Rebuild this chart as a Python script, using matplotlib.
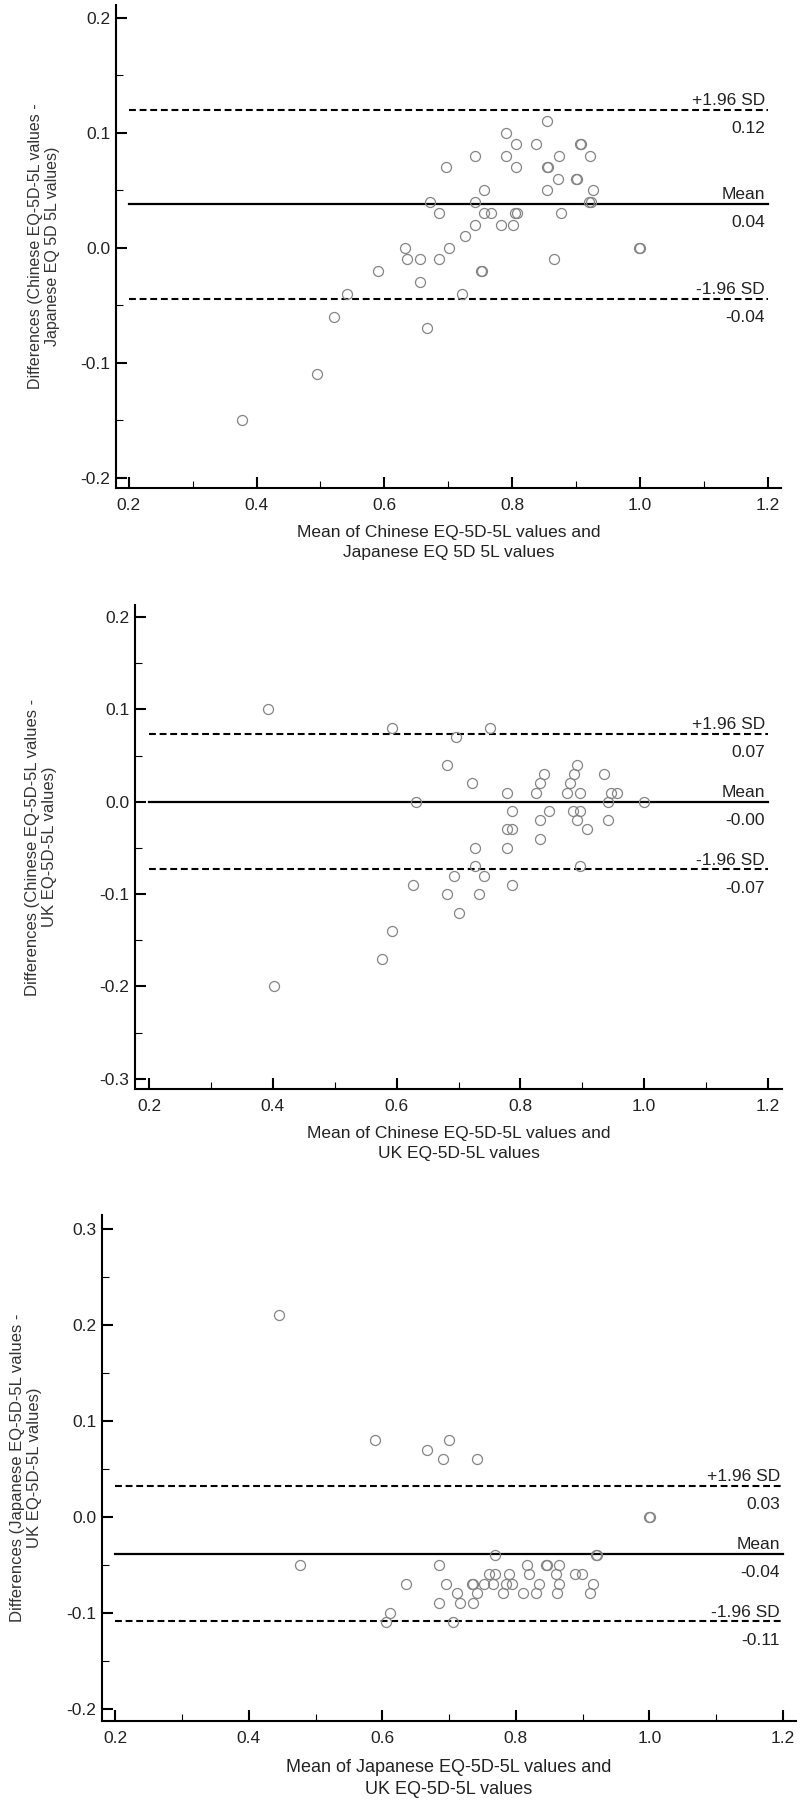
import matplotlib

matplotlib.use("Agg")
import matplotlib.pyplot as plt
import matplotlib.transforms as mtransforms
import numpy as np
from matplotlib.ticker import MultipleLocator, FormatStrFormatter

# Chinese vs Japanese EQ-5D-5L
cj_mean = [0.855, 0.791, 0.806, 0.837, 0.906, 0.908, 0.742, 0.791, 0.874, 0.922,
           0.696, 0.806, 0.854, 0.856, 0.872, 0.900, 0.902, 0.756, 0.855, 0.926,
           0.672, 0.742, 0.921, 0.923, 0.686, 0.756, 0.767, 0.805, 0.807, 0.876,
           0.742, 0.782, 0.802, 0.727, 0.632, 0.701, 0.999, 1.001, 0.635, 0.656,
           0.686, 0.866, 0.590, 0.751, 0.753, 0.656, 0.541, 0.721, 0.522, 0.667,
           0.494, 0.378]
cj_diff = [0.11, 0.10, 0.09, 0.09, 0.09, 0.09, 0.08, 0.08, 0.08, 0.08,
           0.07, 0.07, 0.07, 0.07, 0.06, 0.06, 0.06, 0.05, 0.05, 0.05,
           0.04, 0.04, 0.04, 0.04, 0.03, 0.03, 0.03, 0.03, 0.03, 0.03,
           0.02, 0.02, 0.02, 0.01, 0.00, 0.00, 0.00, 0.00, -0.01, -0.01,
           -0.01, -0.01, -0.02, -0.02, -0.02, -0.03, -0.04, -0.04, -0.06, -0.07,
           -0.11, -0.15]

# Chinese vs UK EQ-5D-5L
cu_mean = [0.392, 0.592, 0.751, 0.696, 0.681, 0.891, 0.838, 0.886, 0.936, 0.722,
           0.831, 0.881, 0.778, 0.826, 0.875, 0.897, 0.947, 0.957, 0.632, 0.942,
           1.000, 0.786, 0.846, 0.885, 0.897, 0.831, 0.892, 0.942, 0.778, 0.786,
           0.907, 0.831, 0.727, 0.778, 0.727, 0.897, 0.692, 0.742, 0.626, 0.786,
           0.681, 0.733, 0.700, 0.592, 0.577, 0.401]
cu_diff = [0.10, 0.08, 0.08, 0.07, 0.04, 0.04, 0.03, 0.03, 0.03, 0.02,
           0.02, 0.02, 0.01, 0.01, 0.01, 0.01, 0.01, 0.01, 0.00, 0.00,
           0.00, -0.01, -0.01, -0.01, -0.01, -0.02, -0.02, -0.02, -0.03, -0.03,
           -0.03, -0.04, -0.05, -0.05, -0.07, -0.07, -0.08, -0.08, -0.09, -0.09,
           -0.10, -0.10, -0.12, -0.14, -0.17, -0.20]

# Japanese vs UK EQ-5D-5L
ju_mean = [0.445, 0.589, 0.700, 0.667, 0.691, 0.741, 0.999, 1.001, 0.769, 0.920,
           0.922, 0.476, 0.685, 0.816, 0.845, 0.847, 0.865, 0.760, 0.769, 0.790,
           0.819, 0.860, 0.889, 0.899, 0.635, 0.696, 0.734, 0.736, 0.752, 0.765,
           0.785, 0.794, 0.835, 0.865, 0.915, 0.712, 0.742, 0.781, 0.811, 0.830,
           0.861, 0.911, 0.685, 0.716, 0.735, 0.612, 0.606, 0.706]
ju_diff = [0.21, 0.08, 0.08, 0.07, 0.06, 0.06, 0.00, 0.00, -0.04, -0.04,
           -0.04, -0.05, -0.05, -0.05, -0.05, -0.05, -0.05, -0.06, -0.06, -0.06,
           -0.06, -0.06, -0.06, -0.06, -0.07, -0.07, -0.07, -0.07, -0.07, -0.07,
           -0.07, -0.07, -0.07, -0.07, -0.07, -0.08, -0.08, -0.08, -0.08, -0.08,
           -0.08, -0.08, -0.09, -0.09, -0.09, -0.10, -0.11, -0.11]

# upper limit, mean, lower limit and their printed values
cj_lines = [0.1196, 0.0382, -0.0446]
cj_line_text = ["0.12", "0.04", "-0.04"]
cu_lines = [0.0733, -0.0004, -0.0733]
cu_line_text = ["0.07", "-0.00", "-0.07"]
ju_lines = [0.0323, -0.0389, -0.1092]
ju_line_text = ["0.03", "-0.04", "-0.11"]
line_names = ["+1.96 SD", "Mean", "-1.96 SD"]

W, H = 800, 1800
POINT_COLOR = "#858585"
TEXT_COLOR = "#222222"


def draw_panel(fig, rect, x, y, lines, line_text, xlim, ylim, xlabel, ylabel,
               ylabel_px, xlabel_px, ylabel_size=11.5, xlabel_size=12.5):
    ax = fig.add_axes([rect[0] / W, 1 - rect[3] / H, (rect[2] - rect[0]) / W,
                       (rect[3] - rect[1]) / H])
    ax.plot(x, y, "o", markersize=7.2, markerfacecolor="none",
            markeredgecolor=POINT_COLOR, markeredgewidth=0.9, zorder=3)

    for value, name, text in zip(lines, line_names, line_text):
        if name == "Mean":
            ax.plot([0.2, 1.2], [value, value], color="black", linewidth=1.6, zorder=2)
        else:
            ax.plot([0.2, 1.2], [value, value], color="black", linewidth=1.5,
                    dashes=(3.3, 1.8), zorder=2)
        ax.annotate(name, xy=(1.2, value), xytext=(-2, 1.2), textcoords="offset points",
                    ha="right", va="bottom", fontsize=12.5, color=TEXT_COLOR)
        ax.annotate(text, xy=(1.2, value), xytext=(-2, -8), textcoords="offset points",
                    ha="right", va="top", fontsize=12.5, color=TEXT_COLOR)

    ax.set_xlim(*xlim)
    ax.set_ylim(*ylim)
    ax.xaxis.set_major_locator(MultipleLocator(0.2))
    ax.xaxis.set_minor_locator(MultipleLocator(0.1))
    ax.yaxis.set_major_locator(MultipleLocator(0.1))
    ax.yaxis.set_minor_locator(MultipleLocator(0.05))
    ax.xaxis.set_major_formatter(FormatStrFormatter("%.1f"))
    ax.yaxis.set_major_formatter(FormatStrFormatter("%.1f"))

    for side in ["top", "right"]:
        ax.spines[side].set_visible(False)
    for side in ["left", "bottom"]:
        ax.spines[side].set_linewidth(1.5)

    ax.tick_params(which="major", direction="in", length=8, width=1.5,
                   labelsize=12.5, labelcolor=TEXT_COLOR)
    ax.tick_params(which="minor", direction="in", length=5, width=0.8)
    ax.tick_params(axis="x", which="major", pad=7)
    ax.tick_params(axis="y", which="major", pad=4)

    ax.set_xlabel(xlabel, fontsize=xlabel_size, color=TEXT_COLOR, linespacing=1.4)
    ax.set_ylabel(ylabel, fontsize=ylabel_size, color="#333333", linespacing=1.2)
    ax.yaxis.set_label_coords(
        ylabel_px / W, 0.5,
        transform=mtransforms.blended_transform_factory(fig.transFigure, ax.transAxes),
    )
    ax.xaxis.set_label_coords(
        0.5, 1 - xlabel_px / H,
        transform=mtransforms.blended_transform_factory(ax.transAxes, fig.transFigure),
    )
    return ax


def main():
    plt.rcParams["font.family"] = ["Liberation Sans", "DejaVu Sans"]
    plt.rcParams["axes.unicode_minus"] = False

    fig = plt.figure(figsize=(8, 18), dpi=100)

    draw_panel(
        fig, (116, 5, 781, 488), np.array(cj_mean), np.array(cj_diff),
        cj_lines, cj_line_text, (0.18, 1.221), (-0.209, 0.211),
        "Mean of Chinese EQ-5D-5L values and\nJapanese EQ 5D 5L values",
        "Differences (Chinese EQ-5D-5L values -\nJapanese EQ 5D 5L values)",
        60, 525,
    )
    draw_panel(
        fig, (135, 605, 782, 1089), np.array(cu_mean), np.array(cu_diff),
        cu_lines, cu_line_text, (0.177, 1.223), (-0.311, 0.213),
        "Mean of Chinese EQ-5D-5L values and\nUK EQ-5D-5L values",
        "Differences (Chinese EQ-5D-5L values -\nUK EQ-5D-5L values)",
        57, 1126, ylabel_size=12,
    )
    draw_panel(
        fig, (102, 1215, 796, 1721), np.array(ju_mean), np.array(ju_diff),
        ju_lines, ju_line_text, (0.18, 1.2195), (-0.213, 0.3146),
        "Mean of Japanese EQ-5D-5L values and\nUK EQ-5D-5L values",
        "Differences (Japanese EQ-5D-5L values -\nUK EQ-5D-5L values)",
        42, 1759, ylabel_size=12, xlabel_size=13,
    )

    fig.savefig("out.png", dpi=100)


if __name__ == "__main__":
    main()
